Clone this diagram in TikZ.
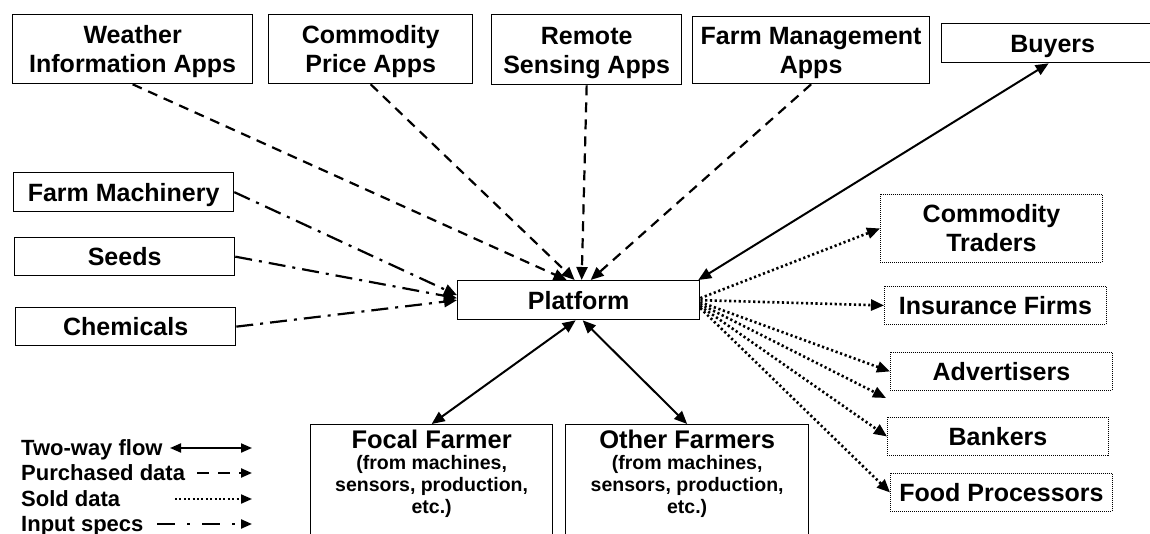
\documentclass[tikz,border=0pt]{standalone}
\usepackage{fontspec}
\setmainfont{Liberation Sans}
\usetikzlibrary{arrows.meta,calc}
\begin{document}
\begin{tikzpicture}[x=1pt,y=-1pt,
  box/.style={draw=black, line width=1.3pt, fill=white, inner sep=0pt, anchor=north west,
    align=center, font=\fontsize{25}{29}\selectfont\bfseries},
  twobox/.style={box, text height=47pt, text depth=0pt},
  onebox/.style={box, text height=18pt, text depth=0pt},
  dbox/.style={onebox, line width=0.9pt, dash pattern=on 1pt off 1pt},
  conn/.style={line width=2.2pt},
  twoway/.style={line width=2pt, {Triangle[length=13pt,width=11pt]}-{Triangle[length=13pt,width=11pt]}},
  purch/.style={conn, dash pattern=on 10pt off 7pt, -{Triangle[length=13pt,width=11pt]}},
  inspec/.style={conn, dash pattern=on 17pt off 7pt on 3pt off 7pt, -{Triangle[length=13pt,width=11pt]}},
  sold/.style={line width=2.6pt, dash pattern=on 2.2pt off 2.6pt, -{Triangle[length=13pt,width=11pt]}},
  legtext/.style={anchor=west, inner sep=0pt, text height=15.5pt, text depth=0pt,
    font=\fontsize{22}{25}\selectfont\bfseries},
  legtip/.style={-{Triangle[length=11pt,width=9pt]}},
  subtext/.style={anchor=north, inner sep=0pt, align=center, font=\fontsize{19.5}{22}\selectfont\bfseries},
  titletext/.style={anchor=base, inner sep=0pt, font=\fontsize{25.5}{29}\selectfont\bfseries}
]
\useasboundingbox (0,0) rectangle (1150,534);
\clip (0,0) rectangle (1150,534);

% top apps
\node[twobox, minimum width=240pt, minimum height=69pt] (wapp) at (12,14) {Weather\\Information Apps};
\node[twobox, minimum width=204pt, minimum height=69pt] (capp) at (268,14) {Commodity\\Price Apps};
\node[twobox, minimum width=190pt, minimum height=70pt] (rapp) at (491,14) {Remote\\Sensing Apps};
\node[twobox, minimum width=237pt, minimum height=67pt] (fapp) at (692,16) {Farm Management\\Apps};
\node[onebox, minimum width=222pt, minimum height=39pt] (buyers) at (941,23) {Buyers};

% inputs
\node[onebox, minimum width=220pt, minimum height=39pt] (fm) at (13,172) {Farm Machinery};
\node[onebox, minimum width=220pt, minimum height=38pt] (seeds) at (14,237) {Seeds};
\node[onebox, minimum width=220pt, minimum height=38pt] (chem) at (15,307) {Chemicals};

% platform
\node[onebox, minimum width=242pt, minimum height=39pt] (platform) at (457,280) {Platform};

% data buyers (dotted boxes)
\node[twobox, line width=0.9pt, dash pattern=on 1pt off 1pt, minimum width=222pt, minimum height=68pt] (ct) at (880,194) {Commodity\\Traders};
\node[dbox, minimum width=222pt, minimum height=38pt] (ins) at (884,286) {Insurance Firms};
\node[dbox, minimum width=222pt, minimum height=38pt] (adv) at (890,352) {Advertisers};
\node[dbox, minimum width=221pt, minimum height=38pt] (bank) at (887,417) {Bankers};
\node[dbox, minimum width=222pt, minimum height=38pt] (food) at (890,473) {Food Processors};

% farmers
\node[box, minimum width=242pt, minimum height=120pt] (focal) at (310,424) {};
\node[box, minimum width=243pt, minimum height=120pt] (other) at (565,424) {};
\node[titletext] (focalt) at ([yshift=-24pt]focal.north) {Focal Farmer};
\node[subtext] (focals) at ([yshift=-31pt]focal.north) {(from machines,\\sensors, production,\\etc.)};
\node[titletext] (othert) at ([yshift=-24pt]other.north) {Other Farmers};
\node[subtext] (others) at ([yshift=-31pt]other.north) {(from machines,\\sensors, production,\\etc.)};

% purchased data
\draw[purch] (wapp.south) -- ([xshift=-12pt]platform.north);
\draw[purch] (capp.south) -- ([xshift=-4pt]platform.north);
\draw[purch] (rapp.south) -- ([xshift=3pt]platform.north);
\draw[purch] (fapp.south) -- ([xshift=12pt]platform.north);

% input specs
\draw[inspec] (fm.east) -- ([yshift=5pt]platform.west);
\draw[inspec] (seeds.east) -- ([yshift=2pt]platform.west);
\draw[inspec] (chem.east) -- (platform.west);

% two-way
\draw[twoway] ([xshift=-4pt]buyers.south) -- ([xshift=-2pt]platform.north east);
\draw[twoway] ([xshift=-3pt]platform.south) -- (focal.north);
\draw[twoway] ([xshift=4pt]platform.south) -- (other.north);

% sold data
\coordinate (extra) at (886,398);
\draw[sold] ([yshift=2pt]platform.east) -- (ct.west);
\draw[sold] (platform.east) -- (ins.west);
\draw[sold] ([yshift=-2pt]platform.east) -- (adv.west);
\draw[sold] ([yshift=-4pt]platform.east) -- (extra);
\draw[sold] ([yshift=-6pt]platform.east) -- (bank.west);
\draw[sold] ([yshift=-8pt]platform.east) -- (food.west);

% legend
\node[legtext] (lg1) at (21,448) {Two-way flow};
\node[legtext] (lg2) at (21,473) {Purchased data};
\node[legtext] (lg3) at (21,499) {Sold data};
\node[legtext] (lg4) at (21,524) {Input specs};
\coordinate (l1a) at (170,448); \coordinate (l1b) at (252,448);
\coordinate (l2a) at (197,473); \coordinate (l2b) at (252,473);
\coordinate (l3a) at (175,499); \coordinate (l3b) at (252,499);
\coordinate (l4a) at (157,524); \coordinate (l4b) at (252,524);
\draw[line width=2pt, {Triangle[length=11pt,width=9pt]}-{Triangle[length=11pt,width=9pt]}] (l1a) -- (l1b);
\draw[conn, dash pattern=on 12pt off 9pt, legtip] (l2a) -- (l2b);
\draw[line width=2pt, dash pattern=on 2pt off 2.4pt, legtip] (l3a) -- (l3b);
\draw[conn, dash pattern=on 18pt off 12pt on 3pt off 12pt, legtip] (l4a) -- (l4b);
\end{tikzpicture}
\end{document}
